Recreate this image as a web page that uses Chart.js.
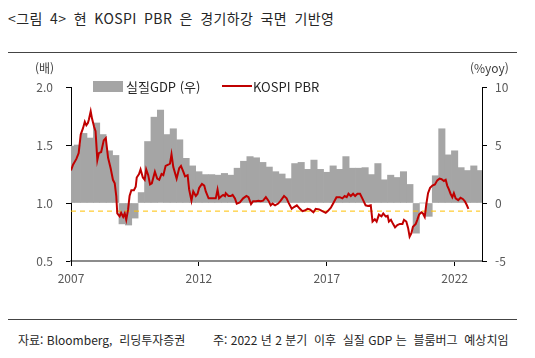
<!DOCTYPE html>
<html lang="ko">
<head>
<meta charset="UTF-8">
<title>KOSPI PBR</title>
<script src="https://cdn.jsdelivr.net/npm/chart.js"></script>
<style>
    body {
        margin: 0;
        width: 535px;
        height: 358px;
        background: #fff;
        position: relative;
        font-family: "Noto Sans CJK KR", sans-serif;
        color: #262626;
    }
    .abs { position: absolute; white-space: pre; }
    #titulo { left: 8px; top: 8px; font-size: 14px; word-spacing: 3px; letter-spacing: 0.4px; }
    .regua { position: absolute; left: 8px; width: 509px; border-top: 1.5px solid #444; }
    #grafico { position: absolute; left: 0; top: 60px; }
    .eixo { font-size: 12px; color: #404040; }
    .legenda { font-size: 13px; color: #262626; }
    .rodape { font-size: 12px; top: 331px; }
</style>
</head>
<body>

<div id="titulo" class="abs">&lt;그림 4&gt; 현 KOSPI PBR 은 경기하강 국면 기반영</div>
<div class="regua" style="top:52px"></div>

<canvas id="grafico" width="535" height="240"></canvas>

<div class="abs eixo" style="left:35px; top:59px;">(배)</div>
<div class="abs eixo" style="left:470px; top:59px;">(%yoy)</div>

<div class="abs" style="left:93px; top:81px; width:30px; height:11px; background:#a5a5a5;"></div>
<div class="abs legenda" style="left:126px; top:77px;">실질GDP (우)</div>
<div class="abs" style="left:222px; top:85px; width:30px; border-top:2px solid #c00000;"></div>
<div class="abs legenda" style="left:253px; top:77px;">KOSPI PBR</div>

<div class="regua" style="top:319px"></div>
<div class="abs rodape" style="left:18px;">자료: Bloomberg,  리딩투자증권</div>
<div class="abs rodape" style="left:213px;">주: 2022 년 2 분기  이후  실질 GDP 는  블룸버그  예상치임</div>

<script>
// 실질 GDP (%yoy), 분기말 기준
var gdpQuarters = [
    '2006Q4',
    '2007Q1', '2007Q2', '2007Q3', '2007Q4',
    '2008Q1', '2008Q2', '2008Q3', '2008Q4',
    '2009Q1', '2009Q2', '2009Q3', '2009Q4',
    '2010Q1', '2010Q2', '2010Q3', '2010Q4',
    '2011Q1', '2011Q2', '2011Q3', '2011Q4',
    '2012Q1', '2012Q2', '2012Q3', '2012Q4',
    '2013Q1', '2013Q2', '2013Q3', '2013Q4',
    '2014Q1', '2014Q2', '2014Q3', '2014Q4',
    '2015Q1', '2015Q2', '2015Q3', '2015Q4',
    '2016Q1', '2016Q2', '2016Q3', '2016Q4',
    '2017Q1', '2017Q2', '2017Q3', '2017Q4',
    '2018Q1', '2018Q2', '2018Q3', '2018Q4',
    '2019Q1', '2019Q2', '2019Q3', '2019Q4',
    '2020Q1', '2020Q2', '2020Q3', '2020Q4',
    '2021Q1', '2021Q2', '2021Q3', '2021Q4',
    '2022Q1', '2022Q2', '2022Q3', '2022Q4'
];
var gdpValues = [
    4.9,
    5.0, 6.0, 5.6, 6.9,
    5.9, 4.5, 4.1, -1.8,
    -1.9, -1.3, 0.9, 5.3,
    7.4, 8.0, 5.9, 6.4,
    5.45, 3.85, 3.2, 2.7,
    2.45, 2.45, 2.4, 2.55,
    2.4, 3.0, 3.6, 4.0,
    3.9, 3.5, 3.1, 2.7,
    2.5, 2.1, 3.4, 3.5,
    2.9, 3.7, 2.9, 2.65,
    3.2, 2.9, 4.0, 3.0,
    3.0, 3.05, 2.45, 3.4,
    2.0, 2.4, 2.2, 2.7,
    1.6, -2.6, 0, -1.15,
    2.35, 6.4, 4.15, 4.5,
    3.05, 2.8, 3.2, 2.8
];

// KOSPI PBR (배)
var pbrDates = [
    2007.00, 2007.08, 2007.21, 2007.30, 2007.38, 2007.47, 2007.54, 2007.60, 2007.66, 2007.70, 2007.77, 2007.82, 2007.90, 2007.96,
    2008.03, 2008.09, 2008.18, 2008.28, 2008.36, 2008.45, 2008.55, 2008.64, 2008.71, 2008.77, 2008.81, 2008.90, 2008.96,
    2009.04, 2009.10, 2009.16, 2009.23, 2009.29, 2009.36, 2009.46, 2009.53, 2009.57, 2009.66, 2009.72, 2009.81, 2009.88, 2009.94,
    2010.02, 2010.09, 2010.16, 2010.28, 2010.37, 2010.45, 2010.54, 2010.61, 2010.70, 2010.80, 2010.87, 2010.93,
    2011.00, 2011.13, 2011.23, 2011.30, 2011.39, 2011.46, 2011.56, 2011.62, 2011.71, 2011.78, 2011.88, 2011.95,
    2012.01, 2012.12, 2012.21, 2012.27, 2012.38, 2012.54, 2012.66, 2012.73, 2012.79, 2012.89, 2012.95,
    2013.02, 2013.05, 2013.16, 2013.25, 2013.32, 2013.41, 2013.48, 2013.60, 2013.73, 2013.86, 2013.94,
    2014.04, 2014.12, 2014.23, 2014.33, 2014.42, 2014.51, 2014.62, 2014.72, 2014.81, 2014.88, 2014.98,
    2015.10, 2015.20, 2015.33, 2015.43, 2015.50, 2015.63, 2015.72, 2015.83, 2015.95,
    2016.05, 2016.14, 2016.25, 2016.34, 2016.48, 2016.57, 2016.70, 2016.83, 2016.96,
    2017.04, 2017.16, 2017.26, 2017.38, 2017.51, 2017.61, 2017.70, 2017.78, 2017.85, 2017.94,
    2018.03, 2018.11, 2018.20, 2018.30, 2018.39, 2018.52, 2018.61, 2018.72, 2018.79, 2018.88, 2018.95,
    2019.04, 2019.14, 2019.21, 2019.30, 2019.38, 2019.43, 2019.51, 2019.59, 2019.67, 2019.76, 2019.86, 2019.96,
    2020.02, 2020.11, 2020.18, 2020.24, 2020.31, 2020.37, 2020.48, 2020.54, 2020.61, 2020.70, 2020.76, 2020.83, 2020.89, 2020.96,
    2021.04, 2021.13, 2021.23, 2021.32, 2021.41, 2021.49, 2021.58, 2021.65, 2021.71, 2021.78, 2021.84, 2021.91, 2021.97,
    2022.04, 2022.14, 2022.23, 2022.32, 2022.40, 2022.47, 2022.54
];
var pbrValues = [
    1.28, 1.33, 1.38, 1.43, 1.59, 1.645, 1.70, 1.67, 1.69, 1.72, 1.79, 1.73, 1.66, 1.62,
    1.37, 1.43, 1.44, 1.54, 1.56, 1.39, 1.30, 1.20, 1.17, 1.06, 0.91, 0.885, 0.915,
    0.88, 0.91, 0.855, 0.94, 1.06, 1.11, 1.11, 1.14, 1.22, 1.25, 1.29, 1.22, 1.20, 1.29,
    1.24, 1.16, 1.17, 1.27, 1.21, 1.20, 1.25, 1.24, 1.32, 1.33, 1.34, 1.42,
    1.31, 1.21, 1.30, 1.32, 1.27, 1.23, 1.24, 1.115, 1.02, 1.10, 1.06, 1.08,
    1.13, 1.165, 1.15, 1.10, 1.04, 1.04, 1.04, 1.115, 1.04, 1.06, 1.07,
    1.06, 1.085, 1.06, 1.06, 1.07, 1.04, 0.995, 1.005, 1.04, 1.06, 1.05,
    0.99, 1.015, 1.015, 1.02, 1.015, 1.02, 1.05, 1.02, 0.98, 0.995, 0.98,
    0.995, 1.02, 1.06, 1.04, 1.005, 0.95, 0.965, 0.98, 0.95,
    0.93, 0.935, 0.95, 0.945, 0.92, 0.95, 0.945, 0.93, 0.915,
    0.93, 0.96, 1.00, 1.05, 1.05, 1.04, 1.06, 1.05, 1.08, 1.06,
    1.08, 1.06, 1.08, 1.08, 1.04, 0.98, 0.975, 0.98, 0.84, 0.86, 0.84,
    0.90, 0.885, 0.91, 0.885, 0.89, 0.84, 0.855, 0.82, 0.79, 0.81, 0.82, 0.82,
    0.855, 0.84, 0.785, 0.71, 0.74, 0.795, 0.82, 0.855, 0.90, 0.92, 0.91, 0.88, 0.985, 1.085,
    1.13, 1.15, 1.16, 1.195, 1.21, 1.205, 1.19, 1.20, 1.15, 1.115, 1.08, 1.05, 1.085,
    1.04, 1.025, 1.045, 1.035, 1.015, 0.985, 0.95
];

var pbrFloor = 0.93; // 점선 기준
var xTicks = [2007, 2012, 2017, 2022];
var leftTicks = [0.5, 1.0, 1.5, 2.0];
var rightTicks = [-5, 0, 5, 10];

function fimDoTrimestre(q) {
    var partes = q.split('Q');
    return Number(partes[0]) + Number(partes[1]) / 4;
}

var barras = [];
for (var i = 0; i < gdpQuarters.length; i++) {
    barras.push({ x: fimDoTrimestre(gdpQuarters[i]), y: gdpValues[i] });
}
var linha = [];
for (var j = 0; j < pbrDates.length; j++) {
    linha.push({ x: pbrDates[j], y: pbrValues[j] });
}
var pontilhado = [
    { x: xTicks[0], y: pbrFloor },
    { x: fimDoTrimestre(gdpQuarters[gdpQuarters.length - 1]), y: pbrFloor }
];

Chart.defaults.font.family = '"Noto Sans CJK KR", sans-serif';
Chart.defaults.font.size = 12;
Chart.defaults.color = '#595959';

function fixarTicks(lista) {
    return function (scale) {
        scale.ticks = lista.map(function (v) { return { value: v }; });
    };
}

new Chart(document.getElementById('grafico'), {
    type: 'bar',
    data: {
        datasets: [{
            type: 'line',
            label: 'KOSPI PBR',
            data: linha,
            borderColor: '#c00000',
            borderWidth: 2,
            pointRadius: 0,
            tension: 0,
            yAxisID: 'y',
            order: 0
        }, {
            type: 'line',
            label: 'floor',
            data: pontilhado,
            borderColor: '#ffc000',
            borderWidth: 1,
            borderDash: [5, 4],
            pointRadius: 0,
            yAxisID: 'y',
            order: 1
        }, {
            type: 'bar',
            label: '실질GDP (우)',
            data: barras,
            backgroundColor: '#a5a5a5',
            barPercentage: 1,
            categoryPercentage: 1,
            yAxisID: 'y2',
            order: 2
        }]
    },
    options: {
        responsive: false,
        animation: false,
        layout: { padding: { top: 27, left: 0, right: 0, bottom: 0 } },
        plugins: {
            legend: { display: false },
            tooltip: { enabled: false }
        },
        scales: {
            x: {
                type: 'linear',
                min: 2007,
                max: 2023.07,
                offset: false,
                afterBuildTicks: fixarTicks(xTicks),
                afterFit: function (scale) { scale.height = 39; },
                ticks: {
                    callback: function (v) { return String(v); },
                    padding: 5,
                    maxRotation: 0
                },
                grid: { drawOnChartArea: false, drawTicks: true, tickLength: 5, color: '#000', offset: false },
                border: { display: true, color: '#8c8c8c', width: 2 }
            },
            y: {
                position: 'left',
                min: 0.5,
                max: 2,
                afterBuildTicks: fixarTicks(leftTicks),
                afterFit: function (scale) { scale.width = 71; },
                ticks: {
                    callback: function (v) { return v.toFixed(1); },
                    padding: 13
                },
                grid: { drawOnChartArea: false, drawTicks: true, tickLength: 5, color: '#000' },
                border: { display: true, color: '#000', width: 1 }
            },
            y2: {
                position: 'right',
                min: -5,
                max: 10,
                afterBuildTicks: fixarTicks(rightTicks),
                afterFit: function (scale) { scale.width = 53; },
                ticks: {
                    callback: function (v) { return String(v); },
                    padding: 8
                },
                grid: { drawOnChartArea: false, drawTicks: true, tickLength: 5, color: '#000' },
                border: { display: true, color: '#000', width: 1 }
            }
        }
    }
});
</script>
</body>
</html>
